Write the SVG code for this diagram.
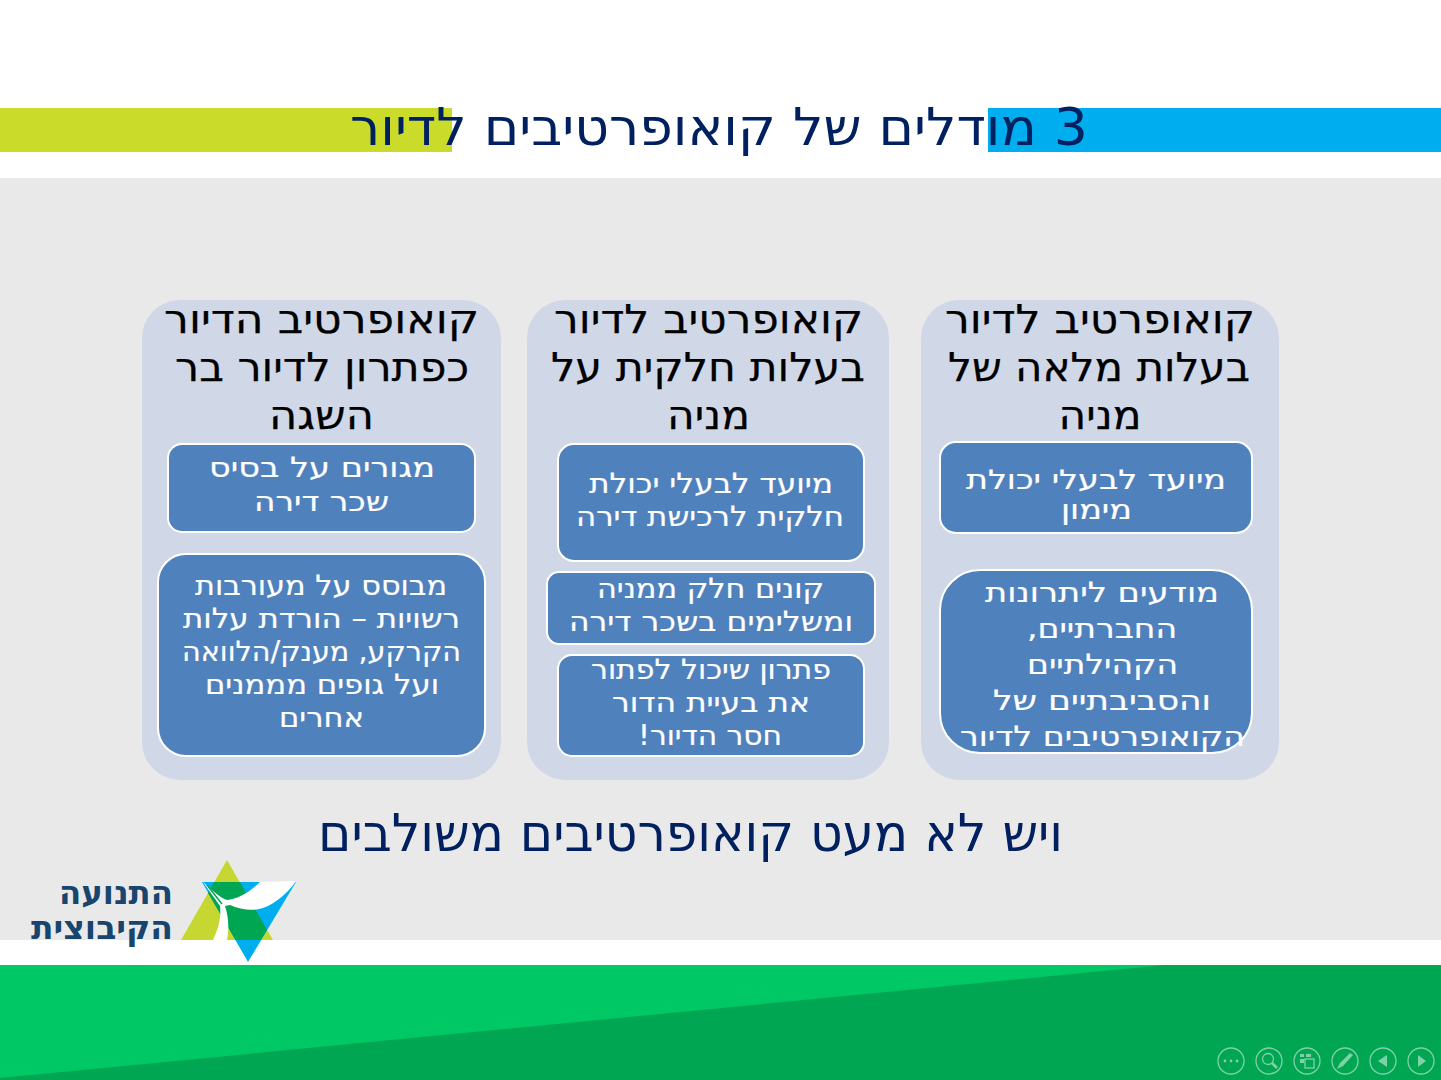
<svg xmlns="http://www.w3.org/2000/svg" width="1441" height="1080" viewBox="0 0 1441 1080">
<style>
text{font-family:"DejaVu Sans","Noto Sans",sans-serif;direction:rtl;text-anchor:middle}
.head{font-size:40px;fill:#000;stroke:#000;stroke-width:.25}
.w{fill:#fff;font-size:28px;stroke:#fff;stroke-width:.2}
.t{font-size:27px}
.col{fill:#d0d8e8}
.box{fill:#4f81bd;stroke:#fff;stroke-width:2}
.big{font-size:52px;fill:#002060}
.logo{font-size:33px;font-weight:bold;fill:#17456e}
.ic{fill:none;stroke:#7fd2a8;stroke-width:1.3}
.if{fill:#7fd2a8}
</style>
<rect width="1441" height="1080" fill="#fff"/>
<g id="background">
<rect y="178" width="1441" height="762" fill="#e9e9e9"/>
<rect y="965" width="1441" height="115" fill="#00a651"/>
<polygon points="0,965 1165,965 0,1078" fill="#00c864"/>
<rect y="108" width="452" height="44" fill="#cbdb2a"/>
<rect x="988" y="108" width="453" height="44" fill="#00aeef"/>
</g>
<g id="title"><text class="big" x="719" y="145" textLength="738" lengthAdjust="spacingAndGlyphs">3 מודלים של קואופרטיבים לדיור</text></g>
<g id="col1"><rect class="col" x="921" y="300" width="358" height="480" rx="38"/>
<text class="head" x="1100" y="333" textLength="310" lengthAdjust="spacingAndGlyphs">קואופרטיב לדיור</text><text class="head" x="1099" y="381" textLength="302" lengthAdjust="spacingAndGlyphs">בעלות מלאה של</text><text class="head" x="1100" y="429" textLength="83" lengthAdjust="spacingAndGlyphs">מניה</text></g>
<g id="col1a"><rect class="box" x="940" y="442" width="312" height="91" rx="16"/>
<text class="w t" x="1096" y="489" textLength="260" lengthAdjust="spacingAndGlyphs">מיועד לבעלי יכולת</text><text class="w t" x="1096.5" y="519" textLength="71" lengthAdjust="spacingAndGlyphs">מימון</text></g>
<g id="col1b"><rect class="box" x="940" y="570" width="312" height="183" rx="40"/>
<text class="w" x="1102" y="602" textLength="234" lengthAdjust="spacingAndGlyphs">מודעים ליתרונות</text><text class="w" x="1102" y="638" textLength="150" lengthAdjust="spacingAndGlyphs">החברתיים,</text><text class="w" x="1102.5" y="674" textLength="151" lengthAdjust="spacingAndGlyphs">הקהילתיים</text><text class="w" x="1102" y="710" textLength="218" lengthAdjust="spacingAndGlyphs">והסביבתיים של</text><text class="w" x="1102.5" y="746" textLength="285" lengthAdjust="spacingAndGlyphs">הקואופרטיבים לדיור</text></g>
<g id="col2"><rect class="col" x="527" y="300" width="362" height="480" rx="38"/>
<text class="head" x="708.5" y="333" textLength="309" lengthAdjust="spacingAndGlyphs">קואופרטיב לדיור</text><text class="head" x="708" y="381" textLength="314" lengthAdjust="spacingAndGlyphs">בעלות חלקית על</text><text class="head" x="708.5" y="429" textLength="83" lengthAdjust="spacingAndGlyphs">מניה</text></g>
<g id="col2a"><rect class="box" x="558" y="444" width="306" height="117" rx="16"/>
<text class="w" x="711" y="493" textLength="244" lengthAdjust="spacingAndGlyphs">מיועד לבעלי יכולת</text><text class="w" x="710" y="526" textLength="268" lengthAdjust="spacingAndGlyphs">חלקית לרכישת דירה</text></g>
<g id="col2b"><rect class="box" x="547" y="572" width="328" height="72" rx="12"/>
<text class="w" x="710.5" y="598" textLength="227" lengthAdjust="spacingAndGlyphs">קונים חלק ממניה</text><text class="w" x="711" y="631" textLength="284" lengthAdjust="spacingAndGlyphs">ומשלימים בשכר דירה</text></g>
<g id="col2c"><rect class="box" x="558" y="655" width="306" height="101" rx="14"/>
<text class="w" x="711" y="679" textLength="240" lengthAdjust="spacingAndGlyphs">פתרון שיכול לפתור</text><text class="w" x="711" y="712" textLength="198" lengthAdjust="spacingAndGlyphs">את בעיית הדור</text><text class="w" x="710" y="745" textLength="144" lengthAdjust="spacingAndGlyphs">חסר הדיור!</text></g>
<g id="col3"><rect class="col" x="142" y="300" width="359" height="480" rx="38"/>
<text class="head" x="321.5" y="333" textLength="315" lengthAdjust="spacingAndGlyphs">קואופרטיב הדיור</text><text class="head" x="322" y="381" textLength="294" lengthAdjust="spacingAndGlyphs">כפתרון לדיור בר</text><text class="head" x="321.5" y="429" textLength="105" lengthAdjust="spacingAndGlyphs">השגה</text></g>
<g id="col3a"><rect class="box" x="168" y="444" width="307" height="88" rx="14"/>
<text class="w" x="322" y="477" textLength="226" lengthAdjust="spacingAndGlyphs">מגורים על בסיס</text><text class="w" x="321.5" y="511" textLength="135" lengthAdjust="spacingAndGlyphs">שכר דירה</text></g>
<g id="col3b"><rect class="box" x="158" y="554" width="327" height="202" rx="28"/>
<text class="w" x="321" y="595" textLength="252" lengthAdjust="spacingAndGlyphs">מבוסס על מעורבות</text><text class="w" x="321.5" y="628" textLength="277" lengthAdjust="spacingAndGlyphs">רשויות – הורדת עלות</text><text class="w" x="321.5" y="661" textLength="279" lengthAdjust="spacingAndGlyphs">הקרקע, מענק/הלוואה</text><text class="w" x="322" y="694" textLength="234" lengthAdjust="spacingAndGlyphs">ועל גופים מממנים</text><text class="w" x="321.5" y="727" textLength="85" lengthAdjust="spacingAndGlyphs">אחרים</text></g>
<g id="footer-text"><text class="big" x="690.5" y="851" textLength="745" lengthAdjust="spacingAndGlyphs">ויש לא מעט קואופרטיבים משולבים</text></g>
<g id="logo">
<text class="logo" x="116" y="904" textLength="114" lengthAdjust="spacingAndGlyphs">התנועה</text>
<text class="logo" x="102" y="939" textLength="142" lengthAdjust="spacingAndGlyphs">הקיבוצית</text>
<polygon points="227,860 273,940 181,940" fill="#c5d730"/>
<polygon points="202,882 296,882 248,962" fill="#00aeef"/>
<polygon points="214,882 240,882 267,930 261,940 235.5,940 208,893" fill="#00a651"/>
<path d="M296,881 L260,882 C250,892 238,899 227,900 C220,898 212,890 203,882 L220,906 C221,915 220,925 213,940 L227,940 C229,930 229,918 225,906 L230,905 C240,910 255,911 263,908 C275,904 288,893 296,881Z" fill="#fff"/>
<path d="M207,885 L222,904" fill="none" stroke="#00a651" stroke-width="1.5"/>
</g>
<g id="slideshow-controls">
<circle class="ic" cx="1231" cy="1061" r="13"/><circle class="if" cx="1225" cy="1061" r="1.4"/><circle class="if" cx="1231" cy="1061" r="1.4"/><circle class="if" cx="1237" cy="1061" r="1.4"/>
<circle class="ic" cx="1269" cy="1061" r="13"/><circle class="ic" cx="1268" cy="1059" r="5.5"/><line class="ic" x1="1272" y1="1063" x2="1277" y2="1068" style="stroke-width:2.5"/>
<circle class="ic" cx="1307" cy="1061" r="13"/><rect class="ic" x="1305" y="1059" width="9" height="9"/><rect class="if" x="1300" y="1054" width="4" height="3"/><rect class="if" x="1306" y="1054" width="5" height="3"/><rect class="if" x="1300" y="1059" width="4" height="4"/>
<circle class="ic" cx="1345" cy="1061" r="13"/><path class="if" d="M1337,1069 L1340,1063 L1350,1053 L1353,1055 L1343,1066Z"/>
<circle class="ic" cx="1383" cy="1061" r="13"/><polygon class="if" points="1387,1055 1387,1067 1378,1061"/>
<circle class="ic" cx="1421" cy="1061" r="13"/><polygon class="if" points="1418,1055 1418,1067 1426,1061"/>
</g>
</svg>
